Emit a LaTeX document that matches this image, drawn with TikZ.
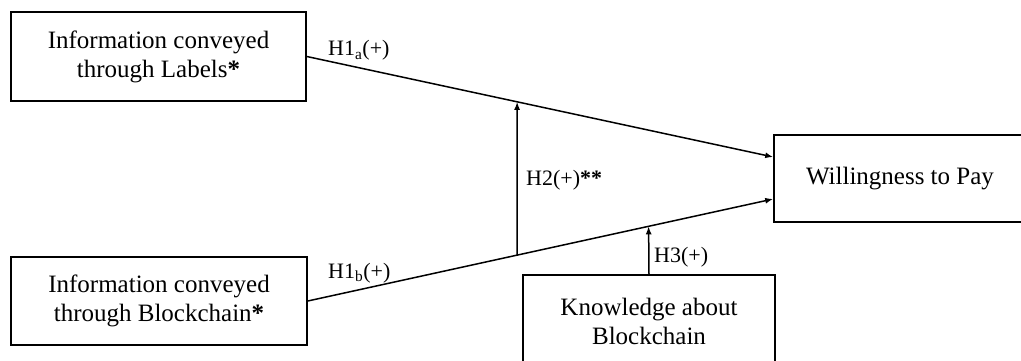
\documentclass[tikz,border=0pt]{standalone}
\usepackage{fontspec}
\setmainfont{Liberation Serif}
\usetikzlibrary{arrows.meta,calc}
\begin{document}
\begin{tikzpicture}[x=1pt,y=-1pt,
  box/.style={draw,line width=1.6pt,rectangle,align=center,inner sep=0pt,
    font=\fontsize{25}{29}\selectfont},
  conn/.style={line width=1.5pt,-{Latex[length=8pt,width=6pt]}},
  lbl/.style={font=\fontsize{22}{26}\selectfont,inner sep=0pt,anchor=base west}]
\clip (0,0) rectangle (1021,361);
\node[box,minimum width=295,minimum height=89] (A) at (158.5,56.5) {Information conveyed\\through Labels\textbf{*}};
\node[box,minimum width=296,minimum height=88] (B) at (159,301) {Information conveyed\\through Blockchain\textbf{*}};
\node[box,minimum width=252,minimum height=87] (C) at (900,178.5) {Willingness to Pay};
\node[box,minimum width=252,minimum height=92] (D) at (649,321) {Knowledge about\\Blockchain};
\coordinate (c1) at ($(C.west)+(0,-21.5)$);
\coordinate (c2) at ($(C.west)+(0,20.5)$);
\draw[conn] (A.east) -- (c1);
\draw[conn] (B.east) -- (c2);
\coordinate (m1) at ($(A.east)!0.4509!(c1)$);
\coordinate (m2) at ($(B.east)!0.4497!(c2)$);
\coordinate (m3) at ($(B.east)!0.7323!(c2)$);
\draw[conn] (m2) -- (m1);
\draw[conn] (D.north) -- (m3);
\node[lbl] (l1) at (328,56) {H1\textsubscript{a}(+)};
\node[lbl] (l2) at (328,278) {H1\textsubscript{b}(+)};
\node[lbl] (l3) at (526,185) {H2(+)\textbf{**}};
\node[lbl] (l4) at (654,262) {H3(+)};
\end{tikzpicture}
\end{document}
